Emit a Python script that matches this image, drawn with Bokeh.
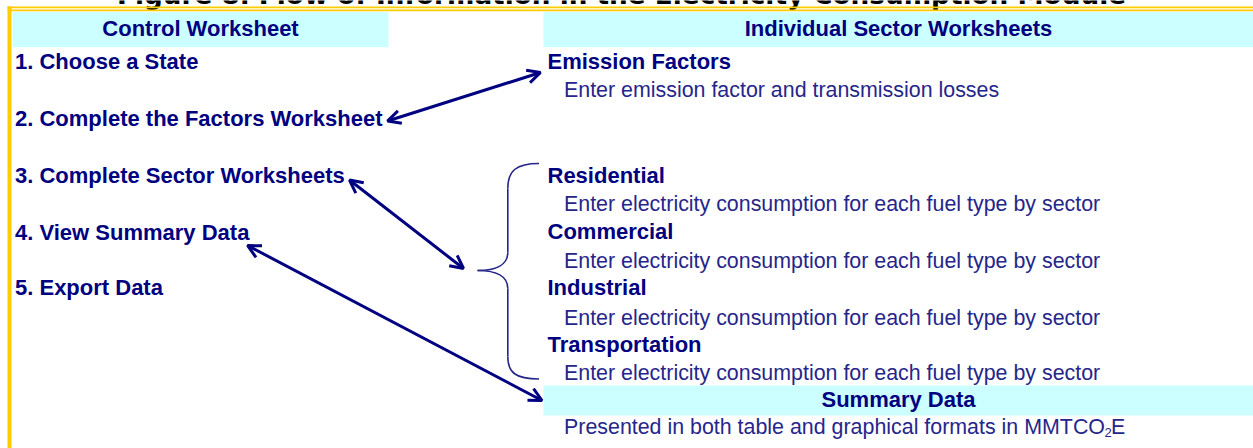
from bokeh.plotting import figure
from bokeh.models import ColumnDataSource, Range1d, Arrow, OpenHead
from bokeh.core.properties import value
from bokeh.embed import file_html
from bokeh.resources import INLINE

# ---------------- content ----------------
title_text = "Figure 8. Flow of Information in the Electricity Consumption Module"
control_header = "Control Worksheet"
sector_header = "Individual Sector Worksheets"
summary_header = "Summary Data"
steps = [
    "1. Choose a State",
    "2. Complete the Factors Worksheet",
    "3. Complete Sector Worksheets",
    "4. View Summary Data",
    "5. Export Data",
]
sheets = ["Emission Factors", "Residential", "Commercial", "Industrial", "Transportation"]
sheet_notes = ["Enter emission factor and transmission losses"] + \
    ["Enter electricity consumption for each fuel type by sector"] * 4
summary_note = "Presented in both table and graphical formats in MMTCO"
summary_sub = "2"
summary_tail = "E"

# ---------------- layout (pixels, y downward) ----------------
W, H = 1253, 448
DY = -8.3  # renderer baseline correction
step_x = 14.5
step_base = [69, 126, 183.3, 240, 295.7]
sheet_x = 547
sheet_base = [69, 183.3, 239.3, 295.7, 352.3]
note_x = 563.5
note_base = [97.3, 211.7, 268.3, 326, 380.7]
summary_base = 407.3
summary_note_base = 435
sub_x, tail_x = 1104, 1110.5

hdr_left = [12, 543, 543]
hdr_right = [388, 1253, 1253]
hdr_top = [11.7, 11.7, 385]
hdr_bot = [46.7, 46.7, 415]
hdr_base = [36, 36, summary_base]

arrows = [  # (x_start, y_start, x_end, y_end)
    (387, 120.5, 540, 72),
    (349, 179.5, 463, 268),
    (247, 245, 541.5, 400),
]

# brace as cubic bezier segments: x0,y0,x1,y1,cx0,cy0,cx1,cy1
brace = [
    (538.5, 163, 507.3, 188, 516, 163, 507.3, 170),
    (507.3, 188, 507.3, 252, 507.3, 188, 507.3, 252),
    (507.3, 252, 477, 270, 507.3, 264, 496, 270),
    (477, 270, 507.3, 288, 496, 270, 507.3, 276),
    (507.3, 288, 507.3, 356, 507.3, 288, 507.3, 356),
    (507.3, 356, 538.5, 378.5, 507.3, 372, 515, 378.5),
]

NAVY = "#000080"
NOTE = "#26268a"
CYAN = "#CCFFFF"
GOLD = "#FFCC00"
FONT = value("Liberation Sans")
FSB = "22px"
FS = "21.4px"

p = figure(width=W, height=H, x_range=Range1d(0, W), y_range=Range1d(H, 0),
           output_backend="svg", toolbar_location=None, min_border=0,
           x_axis_type=None, y_axis_type=None,
           outline_line_color=None, background_fill_color="white",
           border_fill_color="white",
           styles={"position": "absolute", "top": "0px", "left": "0px"})
p.grid.visible = False

# title (cut off at the top in the reference)
p.text(x=[621], y=[2.5 + DY], text=[title_text], text_font=value("DejaVu Sans"),
       text_font_style="bold", text_font_size="26.3px", text_color="black",
       text_align="center", text_baseline="alphabetic")

# gold frame
p.quad(left=[7, 7, 7], right=[11, W, W], top=[6, 6, 9], bottom=[H, 7.8, 10.8],
       fill_color=GOLD, line_color=None)

# cyan header boxes
p.quad(left=hdr_left, right=hdr_right, top=hdr_top, bottom=hdr_bot,
       fill_color=CYAN, line_color=None)

hdr_src = ColumnDataSource(dict(
    x=[(l + r) / 2 for l, r in zip(hdr_left, hdr_right)],
    y=[b + DY for b in hdr_base],
    t=[control_header, sector_header, summary_header]))
p.text(x="x", y="y", text="t", source=hdr_src, text_font=FONT,
       text_font_style="bold", text_font_size=FSB, text_color=NAVY,
       text_align="center", text_baseline="alphabetic")

# control steps
p.text(x=[step_x] * len(steps), y=[b + DY for b in step_base], text=steps, text_font=FONT,
       text_font_style="bold", text_font_size=FSB, text_color=NAVY,
       text_align="left", text_baseline="alphabetic")

# sector sheets
p.text(x=[sheet_x] * len(sheets), y=[b + DY for b in sheet_base], text=sheets, text_font=FONT,
       text_font_style="bold", text_font_size=FSB, text_color=NAVY,
       text_align="left", text_baseline="alphabetic")
p.text(x=[note_x] * len(sheet_notes), y=[b + DY for b in note_base], text=sheet_notes,
       text_font=FONT, text_font_size=FS, text_color=NOTE,
       text_align="left", text_baseline="alphabetic")

# summary note with subscript
p.text(x=[note_x], y=[summary_note_base + DY], text=[summary_note], text_font=FONT,
       text_font_size=FS, text_color=NOTE, text_align="left", text_baseline="alphabetic")
p.text(x=[sub_x], y=[summary_note_base + DY + 5.5], text=[summary_sub], text_font=FONT,
       text_font_size="13px", text_color=NOTE, text_align="left", text_baseline="alphabetic")
p.text(x=[tail_x], y=[summary_note_base + DY], text=[summary_tail], text_font=FONT,
       text_font_size=FS, text_color=NOTE, text_align="left", text_baseline="alphabetic")

# brace
p.bezier(x0=[b[0] for b in brace], y0=[b[1] for b in brace],
         x1=[b[2] for b in brace], y1=[b[3] for b in brace],
         cx0=[b[4] for b in brace], cy0=[b[5] for b in brace],
         cx1=[b[6] for b in brace], cy1=[b[7] for b in brace],
         line_color=NOTE, line_width=1.6)

# double-headed arrows
for xs, ys, xe, ye in arrows:
    p.add_layout(Arrow(x_start=xs, y_start=ys, x_end=xe, y_end=ye,
                       line_color=NAVY, line_width=3,
                       start=OpenHead(size=13, line_color=NAVY, line_width=3),
                       end=OpenHead(size=13, line_color=NAVY, line_width=3)))

open("out.html", "w").write(file_html(p, INLINE))
